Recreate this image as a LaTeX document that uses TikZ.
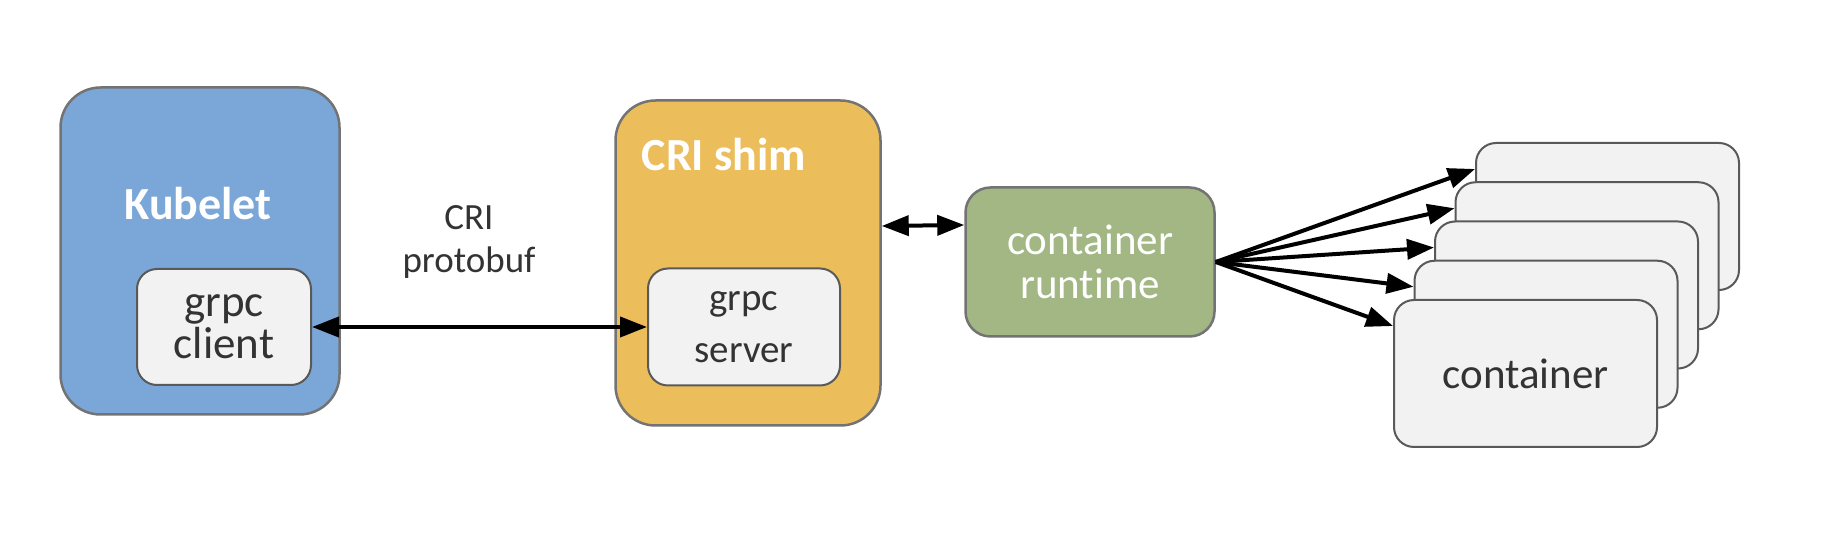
\documentclass[tikz,border=0pt]{standalone}
\usepackage{fontspec}
\setmainfont[Ligatures=NoCommon]{Carlito}
\usetikzlibrary{positioning,arrows.meta}
\definecolor{kubeblue}{HTML}{7BA7D8}
\definecolor{shimyellow}{HTML}{ECBE5B}
\definecolor{rtgreen}{HTML}{A2B783}
\definecolor{boxgray}{HTML}{F2F2F2}
\definecolor{txtgray}{HTML}{333333}
\tikzset{block/.style = {rounded corners=40pt,draw=black!55,line width=2.5pt,inner sep=0pt},
         heading/.style = {text=white,font=\bfseries\fontsize{46}{56}\selectfont},
         grpcbox/.style = {rounded corners=20pt,draw=black!65,line width=2pt,fill=boxgray,
                           inner sep=0pt,text=txtgray,align=center},
         ctr/.style = {grpcbox,minimum width=263pt,minimum height=147pt},
         protolabel/.style = {text=txtgray,align=center,font=\fontsize{37}{43}\selectfont},
         link/.style = {line width=4pt,-{Triangle[length=27pt,width=20pt]}},
         dbl/.style = {line width=4pt,{Triangle[length=27pt,width=20pt]}-{Triangle[length=27pt,width=20pt]}}}
\begin{document}
\begin{tikzpicture}[x=1pt,y=1pt]
    \useasboundingbox (0,0) rectangle (1825,535);
    \node[block,fill=kubeblue,minimum width=279pt,minimum height=327pt] (kubelet) at (200,284) {};
    \node[heading] (kubeletname) at (198,331) {Kubelet};
    \node[grpcbox,minimum width=174pt,minimum height=116pt,font=\fontsize{45}{42}\selectfont] (client) at (224,208) {grpc\\client};

    \node[block,fill=shimyellow,minimum width=265pt,minimum height=325pt] (shim) at (748,272) {};
    \node[heading] (shimname) at (724,380) {CRI shim};
    \node[grpcbox,minimum width=192pt,minimum height=117pt,font=\fontsize{39}{52}\selectfont] (server) at (744,208) {grpc\\server};

    \node[protolabel] (proto) at (469,293) {CRI\\protobuf};

    \node[block,rounded corners=25pt,fill=rtgreen,minimum width=249pt,minimum height=149pt,
          text=white,align=center,font=\fontsize{43}{44}\selectfont] (runtime) at (1090,273) {container\\runtime};

    \foreach \i in {0,...,3}
        \node[ctr] (c\i) at ({1607.5-20.5*\i},{318.5-39.25*\i}) {};
    \node[ctr,font=\fontsize{43}{50}\selectfont] (c4) at (1525.5,161.5) {container};

    \draw[dbl] (client) -- (server);
    \draw[dbl] ([yshift=37pt]shim.east) -- ([yshift=37pt]runtime.west);
    \foreach \i in {0,...,4}
        \draw[link] (runtime.east) -- ([yshift=-27pt]c\i.north west);
\end{tikzpicture}
\end{document}
